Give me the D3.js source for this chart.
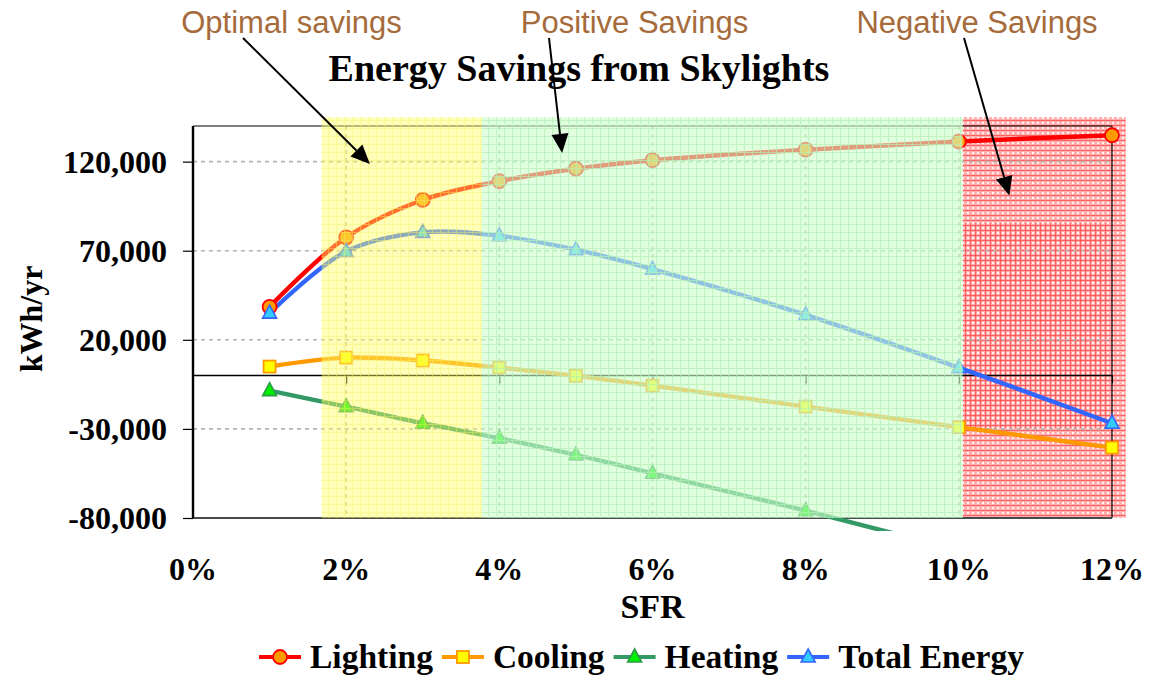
<!DOCTYPE html>
<html>
<head>
<meta charset="utf-8">
<script src="https://cdn.jsdelivr.net/npm/d3@7"></script>
<style>
  body { margin: 0; background: #fff; }
  svg { display: block; }
</style>
</head>
<body>
<svg id="chart" width="1165" height="675"></svg>
<script>
// Skylight-to-floor ratio (SFR) and annual energy savings per end use (kWh/yr)
const sfr         = [0.01, 0.02, 0.03, 0.04, 0.05, 0.06, 0.08, 0.10, 0.12];
const lighting    = [38500, 77500, 98500, 109000, 116000, 120800, 126700, 131300, 134800];
const cooling     = [5000, 10000, 8400, 4400, -200, -5700, -17500, -29000, -40500];
const heating     = [-8500, -17500, -26800, -35200, -44600, -54900, -75900, -98000, -121000];
const totalEnergy = [35000, 69600, 80300, 78400, 70600, 59700, 34000, 4400, -26800];

const yTicks = [-80000, -30000, 20000, 70000, 120000];
const xTicks = [0, 0.02, 0.04, 0.06, 0.08, 0.10, 0.12];

const seriesNames  = ["Lighting", "Cooling", "Heating", "Total Energy"];
const seriesValues = [lighting, cooling, heating, totalEnergy];

// Shaded SFR bands
const zoneNames = ["optimal", "positive", "negative"];
const zoneFrom  = [0.0168, 0.0377, 0.1005];
const zoneTo    = [0.0377, 0.1005, 0.1218];

// Callouts: label text and the point (SFR, kWh/yr) each arrow points at
const noteText = ["Optimal savings", "Positive Savings", "Negative Savings"];
const noteTipX = [0.0231, 0.0482, 0.1066];
const noteTipY = [118700, 124900, 101000];

const style = {
  Lighting:       { line: "#ff0000", fill: "#ff9900", stroke: "#ff0000", shape: "circle" },
  Cooling:        { line: "#ff9900", fill: "#ffff00", stroke: "#ff9900", shape: "square" },
  Heating:        { line: "#339966", fill: "#00ee00", stroke: "#2f9a4a", shape: "triangle" },
  "Total Energy": { line: "#3366ff", fill: "#33ccff", stroke: "#3366ff", shape: "triangle" }
};

const svg = d3.select("#chart");
const plot = { left: 193, right: 1112, top: 126, bottom: 518 };

const x = d3.scaleLinear().domain([0, 0.12]).range([plot.left, plot.right]);
const y = d3.scaleLinear().domain([-80000, 140000]).range([plot.bottom, plot.top]);

const serif = "'Liberation Serif', 'Times New Roman', serif";
const sans  = "'Liberation Sans', Arial, sans-serif";
const fmtThousands = d => d3.format(",")(d).replace("\u2212", "-");

// ---------- patterns for the shaded bands ----------
const defs = svg.append("defs");

const pY = defs.append("pattern").attr("id", "patYellow")
  .attr("width", 8).attr("height", 8).attr("patternUnits", "userSpaceOnUse");
pY.append("rect").attr("width", 8).attr("height", 8).attr("fill", "#ffff66").attr("opacity", 0.45);
pY.append("path").attr("d", "M0,0.5H8M0.5,0V8").attr("stroke", "#f4f060").attr("stroke-width", 1).attr("opacity", 0.45);

const pG = defs.append("pattern").attr("id", "patGreen")
  .attr("width", 8).attr("height", 8).attr("patternUnits", "userSpaceOnUse");
pG.append("rect").attr("width", 8).attr("height", 8).attr("fill", "#ccffcc").attr("opacity", 0.62);
pG.append("path").attr("d", "M0,0.5H8M0.5,0V8").attr("stroke", "#b4eeb4").attr("stroke-width", 1).attr("opacity", 0.7);

const pR = defs.append("pattern").attr("id", "patRed")
  .attr("width", 5).attr("height", 5).attr("patternUnits", "userSpaceOnUse");
pR.append("rect").attr("width", 5).attr("height", 5).attr("fill", "#ff6a6a").attr("opacity", 0.55);
pR.append("path").attr("d", "M0,0.5H5").attr("stroke", "#ff1c1c").attr("stroke-width", 1).attr("opacity", 0.5);
pR.append("rect").attr("x", 2).attr("y", 2).attr("width", 2).attr("height", 2).attr("fill", "#ffffff").attr("opacity", 0.85);

const pR2 = defs.append("pattern").attr("id", "patRedDense")
  .attr("width", 5).attr("height", 5).attr("patternUnits", "userSpaceOnUse");
pR2.append("path").attr("d", "M0.5,0V5").attr("stroke", "#ff1010").attr("stroke-width", 1.2).attr("opacity", 0.45);

defs.append("clipPath").attr("id", "lineClip")
  .append("rect").attr("x", 150).attr("y", 100).attr("width", 1000).attr("height", 431);

const bandTop = y(145000);

// ---------- negative band (sits beneath the series) ----------
const redBand = svg.append("g");
redBand.append("rect")
  .attr("x", x(zoneFrom[2])).attr("width", x(zoneTo[2]) - x(zoneFrom[2]))
  .attr("y", bandTop).attr("height", plot.bottom - bandTop)
  .attr("fill", "url(#patRed)");
redBand.append("rect")
  .attr("x", x(zoneFrom[2])).attr("width", x(0.1194) - x(zoneFrom[2]))
  .attr("y", y(85500)).attr("height", y(-29500) - y(85500))
  .attr("fill", "url(#patRedDense)");

// ---------- grid ----------
const grid = svg.append("g");
grid.selectAll("line.h").data(yTicks.filter(v => v > -80000)).join("line")
  .attr("x1", plot.left).attr("x2", plot.right)
  .attr("y1", d => y(d)).attr("y2", d => y(d))
  .attr("stroke", "#b4b4b4").attr("stroke-width", 1.6).attr("stroke-dasharray", "4,4");
grid.selectAll("line.v").data(xTicks.filter(v => v > 0 && v < 0.12)).join("line")
  .attr("x1", d => x(d)).attr("x2", d => x(d))
  .attr("y1", plot.top).attr("y2", plot.bottom)
  .attr("stroke", "#b4b4b4").attr("stroke-width", 1.6).attr("stroke-dasharray", "4,4");

// ---------- frame and axes ----------
const frame = svg.append("g");
frame.append("line").attr("x1", plot.left).attr("x2", plot.right).attr("y1", plot.top).attr("y2", plot.top)
  .attr("stroke", "#000").attr("stroke-width", 1.2);
frame.append("line").attr("x1", plot.right).attr("x2", plot.right).attr("y1", plot.top).attr("y2", plot.bottom)
  .attr("stroke", "#000").attr("stroke-width", 1.2);
frame.append("line").attr("x1", plot.left).attr("x2", plot.right).attr("y1", plot.bottom).attr("y2", plot.bottom)
  .attr("stroke", "#4a4a4a").attr("stroke-width", 2.2);

// y axis
const yAxis = svg.append("g").attr("transform", `translate(${plot.left},0)`)
  .call(d3.axisLeft(y).tickValues(yTicks).tickSize(10).tickPadding(16).tickFormat(fmtThousands));
yAxis.select(".domain").remove();
yAxis.append("line").attr("x1", 0).attr("x2", 0).attr("y1", plot.top).attr("y2", plot.bottom)
  .attr("stroke", "#000").attr("stroke-width", 2.4);
yAxis.selectAll(".tick line").attr("stroke", "#000").attr("stroke-width", 1.2);
yAxis.selectAll(".tick text").attr("font-family", serif).attr("font-weight", "bold")
  .attr("font-size", 32).attr("fill", "#000").attr("dy", "0.34em");

// x axis crossing at zero, labels placed below the plot
const zeroAxis = svg.append("g").attr("transform", `translate(0,${y(0)})`)
  .call(d3.axisBottom(x).tickValues(xTicks.filter(v => v > 0)).tickSize(8).tickFormat(""));
zeroAxis.select(".domain").attr("d", `M${plot.left},0H${plot.right}`).attr("stroke", "#000").attr("stroke-width", 1.6);
zeroAxis.selectAll(".tick line").attr("stroke", "#000").attr("stroke-width", 1.2);

svg.append("g").selectAll("text").data(xTicks).join("text")
  .attr("x", d => x(d)).attr("y", 580)
  .attr("text-anchor", "middle")
  .attr("font-family", serif).attr("font-weight", "bold").attr("font-size", 32)
  .text(d => d3.format(".0%")(d));

// ---------- series ----------
const lineGen = d3.line()
  .x((d, i) => x(sfr[i]))
  .y(d => y(d))
  .curve(d3.curveCatmullRom.alpha(0.5));

const seriesG = svg.append("g").attr("clip-path", "url(#lineClip)");
seriesNames.forEach((name, k) => {
  seriesG.append("path").datum(seriesValues[k])
    .attr("d", lineGen)
    .attr("fill", "none")
    .attr("stroke", style[name].line)
    .attr("stroke-width", 4.4)
    .attr("stroke-linejoin", "round");
});

function drawMarker(g, shape, cx, cy, fill, stroke) {
  if (shape === "circle") {
    g.append("circle").attr("cx", cx).attr("cy", cy).attr("r", 7)
      .attr("fill", fill).attr("stroke", stroke).attr("stroke-width", 1.8);
  } else if (shape === "square") {
    g.append("rect").attr("x", cx - 6).attr("y", cy - 6).attr("width", 12).attr("height", 12)
      .attr("fill", fill).attr("stroke", stroke).attr("stroke-width", 1.8);
  } else {
    g.append("path").attr("d", `M${cx},${cy - 8}L${cx + 7},${cy + 5}L${cx - 7},${cy + 5}Z`)
      .attr("fill", fill).attr("stroke", stroke).attr("stroke-width", 1.6);
  }
}

const markerG = svg.append("g").attr("clip-path", "url(#lineClip)");
seriesNames.forEach((name, k) => {
  seriesValues[k].forEach((v, i) => {
    if (y(v) <= plot.bottom + 2) {
      drawMarker(markerG, style[name].shape, x(sfr[i]), y(v), style[name].fill, style[name].stroke);
    }
  });
});

// ---------- optimal and positive bands (translucent, over the series) ----------
const zoneFill = { optimal: "url(#patYellow)", positive: "url(#patGreen)" };
const bands = svg.append("g");
zoneNames.slice(0, 2).forEach((z, i) => {
  bands.append("rect")
    .attr("x", x(zoneFrom[i])).attr("width", x(zoneTo[i]) - x(zoneFrom[i]))
    .attr("y", bandTop).attr("height", plot.bottom - bandTop)
    .attr("fill", zoneFill[z]);
});

// ---------- titles ----------
svg.append("text").attr("x", 579).attr("y", 81).attr("text-anchor", "middle")
  .attr("font-family", serif).attr("font-weight", "bold").attr("font-size", 38)
  .text("Energy Savings from Skylights");

svg.append("text").attr("x", (plot.left + plot.right) / 2).attr("y", 618).attr("text-anchor", "middle")
  .attr("font-family", serif).attr("font-weight", "bold").attr("font-size", 34)
  .text("SFR");

svg.append("text").attr("transform", "translate(42,319) rotate(-90)").attr("text-anchor", "middle")
  .attr("font-family", serif).attr("font-weight", "bold").attr("font-size", 32)
  .text("kWh/yr");

// ---------- callouts ----------
const noteX = [291.5, 634.5, 977];
const noteAnchorX = [243, 549, 964];
const notesG = svg.append("g");
noteText.forEach((t, i) => {
  notesG.append("text").attr("x", noteX[i]).attr("y", 33).attr("text-anchor", "middle")
    .attr("font-family", sans).attr("font-size", 31).attr("fill", "#a66b3b")
    .text(t);
  const tx = x(noteTipX[i]), ty = y(noteTipY[i]);
  const sx = noteAnchorX[i], sy = 38;
  const ang = Math.atan2(ty - sy, tx - sx);
  const headLen = 19, headHalf = 8.5;
  const bx = tx - headLen * Math.cos(ang), by = ty - headLen * Math.sin(ang);
  notesG.append("line").attr("x1", sx).attr("y1", sy).attr("x2", bx).attr("y2", by)
    .attr("stroke", "#000").attr("stroke-width", 2);
  const px = -Math.sin(ang) * headHalf, py = Math.cos(ang) * headHalf;
  notesG.append("path")
    .attr("d", `M${tx},${ty}L${bx + px},${by + py}L${bx - px},${by - py}Z`)
    .attr("fill", "#000");
});

// ---------- legend ----------
const legend = svg.append("g");
const legendY = 657;
const sampleW = 42, gapText = 9, gapItem = 9;
const items = [];
let cursor = 0;
seriesNames.forEach(name => {
  const g = legend.append("g");
  g.append("line").attr("x1", 0).attr("x2", sampleW).attr("y1", 0).attr("y2", 0)
    .attr("stroke", style[name].line).attr("stroke-width", 4);
  drawMarker(g, style[name].shape, sampleW / 2, 0, style[name].fill, style[name].stroke);
  const txt = g.append("text").attr("x", sampleW + gapText).attr("y", 11)
    .attr("font-family", serif).attr("font-weight", "bold").attr("font-size", 33.5)
    .text(name);
  const w = sampleW + gapText + txt.node().getComputedTextLength();
  items.push({ g, offset: cursor });
  cursor += w + gapItem;
});
const legendWidth = cursor - gapItem;
const legendStart = 641.5 - legendWidth / 2;
items.forEach(it => it.g.attr("transform", `translate(${legendStart + it.offset},${legendY})`));
</script>
</body>
</html>
